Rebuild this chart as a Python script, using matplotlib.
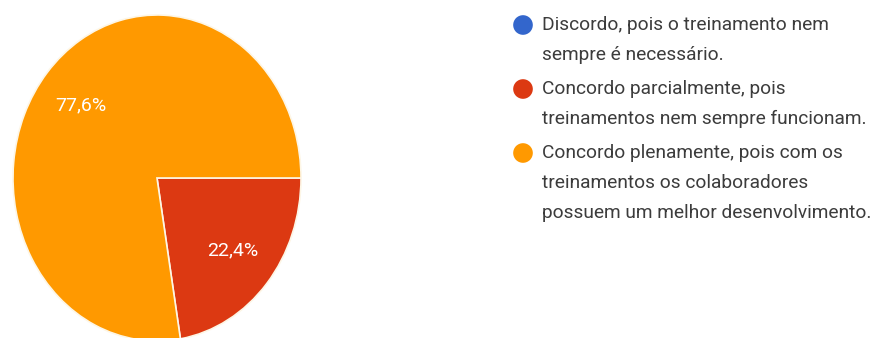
import matplotlib
matplotlib.use('Agg')
import matplotlib.pyplot as plt

plt.rcParams['font.family'] = ['Roboto', 'DejaVu Sans']

# respostas (percentual)
labels = [
    ['Discordo, pois o treinamento nem', 'sempre é necessário.'],
    ['Concordo parcialmente, pois', 'treinamentos nem sempre funcionam.'],
    ['Concordo plenamente, pois com os', 'treinamentos os colaboradores',
     'possuem um melhor desenvolvimento.'],
]
values = [0.0, 22.4, 77.6]
colors = ['#3366CC', '#DC3912', '#FF9900']

W, H = 877, 338
fig = plt.figure(figsize=(W / 100, H / 100), dpi=100)

# pizza (esticada na vertical, como na imagem original)
ax = fig.add_axes([13 / W, (H - 341) / H, 288 / W, 326 / H])
shown = [(v, c) for v, c in zip(values, colors) if v > 0]
ax.pie([v for v, c in shown], colors=[c for v, c in shown],
       startangle=0, counterclock=False,
       autopct=lambda p: ('%.1f%%' % p).replace('.', ','),
       pctdistance=0.69,
       textprops={'color': 'white', 'fontsize': 14},
       wedgeprops={'edgecolor': '#fdf6e6', 'linewidth': 1.2})
ax.set_aspect('auto')
ax.set_xlim(-1, 1)
ax.set_ylim(-1, 1)
ax.axis('off')

# legenda
lax = fig.add_axes([0, 0, 1, 1])
lax.set_xlim(0, W)
lax.set_ylim(H, 0)
lax.axis('off')
y = 25
for lines, c in zip(labels, colors):
    lax.scatter([523], [y], s=200, color=c, edgecolors='none')
    for i, line in enumerate(lines):
        lax.text(542, y + 30 * i, line, fontsize=13.8, color='#3c3c3c',
                 va='center', ha='left')
    y += 30 * (len(lines) - 1) + 34

plt.savefig('out.png', dpi=100)
